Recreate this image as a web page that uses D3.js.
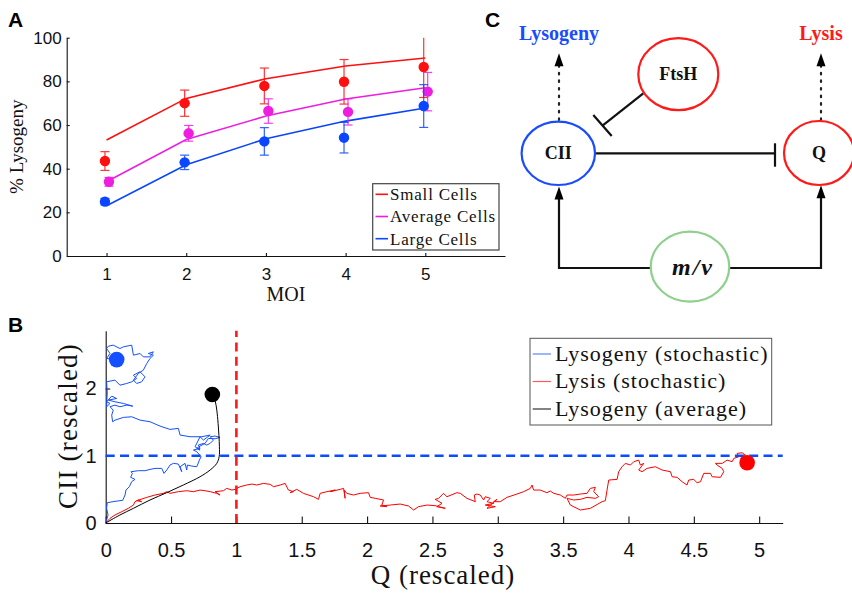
<!DOCTYPE html>
<html>
<head>
<meta charset="utf-8">
<script src="https://cdn.jsdelivr.net/npm/d3@7"></script>
<style>
  body { margin: 0; background: #fff; }
  svg { display: block; }
</style>
</head>
<body>
<div id="chart"></div>
<script>
// DATA

// panel A: % lysogeny vs MOI
const moi = [1, 2, 3, 4, 5];
const smallObs = [43.5, 70, 77.9, 79.8, 86.6];
const smallErr = [4.3, 6, 8.2, 10.2, 14];
const avgObs = [34, 56.2, 66.4, 66, 75.3];
const avgErr = [2, 3.6, 5.6, 6, 8.8];
const largeObs = [24.9, 42.9, 52.5, 54.2, 68.7];
const largeErr = [1.5, 3.3, 6.3, 7, 9.8];
const smallModel = [53.1, 72.2, 81.2, 87, 90.7];
const avgModel = [34, 53.4, 64.1, 71.9, 77.1];
const largeModel = [23, 41.8, 53.7, 61.8, 67.8];
const seriesNames = ['Small Cells', 'Average Cells', 'Large Cells'];
const moiJitter = [-0.02, 0.03, -0.02];
const yTicksA = [0, 20, 40, 60, 80, 100];

// panel B: trajectories in (Q, CII)
const lysogenyStochastic = [
  [0,0],[0.018,0.119],[0.007,0.218],[0.012,0.302],[0.071,0.322],[0.13,0.337],[0.148,0.416],[0.155,0.49],
  [0.181,0.54],[0.199,0.614],[0.224,0.649],[0.191,0.679],[0.204,0.738],[0.194,0.763],[0.25,0.778],[0.301,0.778],
  [0.339,0.797],[0.377,0.812],[0.429,0.812],[0.446,0.738],[0.467,0.788],[0.492,0.862],[0.518,0.887],[0.556,0.877],
  [0.582,0.763],[0.569,0.837],[0.607,0.887],[0.62,0.788],[0.625,0.862],[0.658,0.847],[0.697,0.837],[0.717,0.936],
  [0.73,0.986],[0.697,1.06],[0.671,1.085],[0.722,1.11],[0.709,1.159],[0.748,1.184],[0.773,1.159],[0.799,1.184],
  [0.824,1.233],[0.799,1.283],[0.837,1.293],[0.875,1.273],[0.837,1.253],[0.786,1.258],[0.76,1.184],[0.722,1.144],
  [0.697,1.11],[0.722,1.085],[0.684,1.134],[0.722,1.283],[0.748,1.233],[0.799,1.308],[0.735,1.283],[0.645,1.283],
  [0.569,1.308],[0.556,1.407],[0.492,1.392],[0.416,1.441],[0.339,1.506],[0.263,1.53],[0.199,1.58],[0.135,1.57],
  [0.071,1.53],[0.053,1.506],[0.046,1.605],[0.058,1.679],[0.033,1.729],[0.071,1.753],[0.109,1.729],[0.161,1.753],
  [0.207,1.738],[0.135,1.778],[0.071,1.803],[0.02,1.828],[0.084,1.852],[0.046,1.887],[0.007,1.803],[0.033,1.778],
  [0.007,1.729],[0.012,1.95],[0.007,2.1],[0.071,2.125],[0.109,2.05],[0.161,2.075],[0.199,2.1],[0.237,2.15],
  [0.212,2.199],[0.263,2.249],[0.301,2.174],[0.275,2.1],[0.237,2.075],[0.212,2.125],[0.25,2.224],[0.288,2.273],
  [0.314,2.372],[0.339,2.447],[0.365,2.496],[0.326,2.521],[0.365,2.546],[0.339,2.471],[0.288,2.471],[0.263,2.521],
  [0.212,2.496],[0.199,2.645],[0.135,2.62],[0.109,2.595],[0.058,2.645],[0.02,2.63],[0.007,2.595],[0.033,2.521],
  [0.007,2.447],[0.071,2.432],[0.084,2.43]
];
const lysisStochastic = [
  [0,0],[0.033,0.069],[0.071,0.119],[0.122,0.168],[0.173,0.218],[0.212,0.267],[0.224,0.317],[0.25,0.342],
  [0.275,0.317],[0.237,0.332],[0.314,0.381],[0.377,0.416],[0.441,0.441],[0.467,0.466],[0.492,0.441],[0.556,0.466],
  [0.62,0.48],[0.671,0.466],[0.722,0.49],[0.76,0.48],[0.799,0.466],[0.85,0.441],[0.875,0.416],[0.837,0.466],
  [0.901,0.48],[0.926,0.515],[0.965,0.49],[0.99,0.5],[1.028,0.54],[1.079,0.565],[1.118,0.579],[1.156,0.565],
  [1.207,0.589],[1.258,0.575],[1.284,0.54],[1.335,0.565],[1.373,0.589],[1.398,0.49],[1.437,0.466],[1.411,0.451],
  [1.462,0.5],[1.513,0.441],[1.59,0.391],[1.628,0.352],[1.641,0.441],[1.692,0.466],[1.756,0.49],[1.717,0.466],
  [1.794,0.5],[1.82,0.515],[1.832,0.367],[1.825,0.49],[1.845,0.441],[1.896,0.416],[1.947,0.441],[2.011,0.451],
  [2.024,0.381],[2.062,0.367],[2.126,0.342],[2.113,0.267],[2.151,0.243],[2.1,0.253],[2.177,0.267],[2.253,0.282],
  [2.317,0.253],[2.356,0.193],[2.394,0.243],[2.458,0.267],[2.521,0.258],[2.547,0.243],[2.598,0.218],[2.534,0.243],
  [2.573,0.292],[2.521,0.352],[2.547,0.367],[2.585,0.441],[2.611,0.391],[2.687,0.451],[2.713,0.441],[2.764,0.367],
  [2.828,0.317],[2.82,0.416],[2.84,0.431],[2.866,0.416],[2.892,0.342],[2.904,0.391],[2.943,0.367],[2.917,0.317],
  [2.968,0.292],[2.904,0.267],[2.981,0.243],[2.917,0.218],[2.994,0.352],[2.968,0.317],[3.019,0.317],[3.07,0.381],
  [3.147,0.431],[3.198,0.466],[3.249,0.515],[3.262,0.565],[3.274,0.49],[3.325,0.49],[3.376,0.451],[3.402,0.475],
  [3.428,0.441],[3.479,0.416],[3.517,0.367],[3.53,0.416],[3.581,0.416],[3.632,0.431],[3.683,0.441],[3.708,0.515],
  [3.747,0.53],[3.734,0.466],[3.772,0.391],[3.747,0.367],[3.683,0.381],[3.632,0.352],[3.581,0.342],[3.53,0.367],
  [3.555,0.267],[3.632,0.193],[3.708,0.218],[3.798,0.317],[3.823,0.332],[3.836,0.49],[3.849,0.639],[3.913,0.649],
  [3.925,0.763],[3.951,0.837],[3.976,0.887],[4.015,0.862],[4.04,0.911],[4.078,0.936],[4.091,0.862],[4.117,0.887],
  [4.078,0.788],[4.104,0.763],[4.142,0.812],[4.206,0.837],[4.257,0.788],[4.321,0.763],[4.334,0.688],[4.372,0.679],
  [4.41,0.614],[4.448,0.565],[4.461,0.639],[4.499,0.649],[4.525,0.599],[4.551,0.614],[4.576,0.738],[4.627,0.738],
  [4.64,0.688],[4.704,0.679],[4.729,0.763],[4.717,0.812],[4.678,0.862],[4.665,0.887],[4.717,0.887],[4.755,0.936],
  [4.793,0.911],[4.806,0.961],[4.844,0.986],[4.831,1.035],[4.87,1.045],[4.895,1.01],[4.857,0.961],[4.908,0.897]
];
const lysogenyAverage = [
  [0,0],[0.109,0.119],[0.212,0.218],[0.339,0.342],[0.467,0.451],[0.594,0.565],[0.722,0.688],[0.799,0.788],
  [0.85,0.887],[0.868,0.986],[0.87,1.134],[0.86,1.481],[0.85,1.679],[0.839,1.803],[0.816,1.912]
];
const thresholdQ = 1;
const thresholdCII = 1;
const xTicksB = [0, 0.5, 1, 1.5, 2, 2.5, 3, 3.5, 4, 4.5, 5];
const yTicksB = [0, 1, 2];
const legendB = ['Lysogeny (stochastic)', 'Lysis (stochastic)', 'Lysogeny (average)'];

// COLOURS AND FONTS
const colA = ['#ff1010', '#ee1ee0', '#0a46ff'];
const colB = { lysog: '#1450ff', lysis: '#ff0000', avg: '#000000' };
const sans = 'Liberation Sans, Arial, sans-serif';
const serif = 'Liberation Serif, Times New Roman, serif';
const plain = d => String(d);

const svg = d3.select('#chart').append('svg')
  .attr('width', 852)
  .attr('height', 595)
  .style('background', '#fff');

// PANEL A
const xA = d3.scaleLinear().domain([0.5, 6]).range([66.7, 505]);
const yA = d3.scaleLinear().domain([0, 100]).range([256, 37.7]);

svg.append('clipPath').attr('id', 'clipA')
  .append('rect').attr('x', 66.7).attr('y', 37.7).attr('width', 440).attr('height', 218.3);

const gA = svg.append('g');

const axA1 = gA.append('g')
  .attr('transform', 'translate(0,256)')
  .call(d3.axisBottom(xA).tickValues(moi).tickFormat(plain).tickSize(-3).tickSizeOuter(0).tickPadding(12));
const axA2 = gA.append('g')
  .attr('transform', 'translate(66.7,0)')
  .call(d3.axisLeft(yA).tickValues(yTicksA).tickFormat(plain).tickSize(-3).tickSizeOuter(0).tickPadding(5));
[axA1, axA2].forEach(ax => {
  ax.selectAll('text').attr('font-size', 17).attr('font-family', sans).attr('fill', '#111');
  ax.selectAll('line, path').attr('stroke', '#111').attr('stroke-width', 1.1);
});

const obsA = [smallObs, avgObs, largeObs];
const errA = [smallErr, avgErr, largeErr];
const modA = [smallModel, avgModel, largeModel];
const plotA = gA.append('g').attr('clip-path', 'url(#clipA)');

modA.forEach((m, i) => {
  plotA.append('path')
    .datum(m)
    .attr('fill', 'none')
    .attr('stroke', colA[i])
    .attr('stroke-width', 1.6)
    .attr('d', d3.line().x((d, j) => xA(moi[j])).y(d => yA(d)));
});

obsA.forEach((vals, i) => {
  const g = plotA.append('g').attr('stroke', colA[i]).attr('stroke-width', 1.2).attr('opacity', 0.85);
  vals.forEach((v, j) => {
    const x = xA(moi[j] + moiJitter[i]);
    const top = yA(v + errA[i][j]);
    const bot = yA(v - errA[i][j]);
    g.append('line').attr('x1', x).attr('x2', x).attr('y1', top).attr('y2', bot);
    g.append('line').attr('x1', x - 4.5).attr('x2', x + 4.5).attr('y1', top).attr('y2', top);
    g.append('line').attr('x1', x - 4.5).attr('x2', x + 4.5).attr('y1', bot).attr('y2', bot);
  });
  plotA.selectAll(null)
    .data(vals)
    .join('circle')
    .attr('cx', (d, j) => xA(moi[j] + moiJitter[i]))
    .attr('cy', d => yA(d))
    .attr('r', 5.2)
    .attr('fill', colA[i]);
});

// legend A
const lgA = gA.append('g');
lgA.append('rect')
  .attr('x', 372.7).attr('y', 183.7).attr('width', 126.3).attr('height', 66.3)
  .attr('fill', '#fff').attr('stroke', '#444').attr('stroke-width', 1.2);
seriesNames.forEach((name, i) => {
  const yy = 194.3 + i * 22.2;
  lgA.append('line').attr('x1', 375.5).attr('x2', 388).attr('y1', yy).attr('y2', yy)
    .attr('stroke', colA[i]).attr('stroke-width', 1.6);
  lgA.append('text').attr('x', 390).attr('y', yy + 5.8)
    .attr('font-family', serif).attr('font-size', 17).attr('letter-spacing', 0.8)
    .attr('fill', '#111').text(name);
});

gA.append('text')
  .attr('transform', 'translate(23,146.7) rotate(-90)')
  .attr('text-anchor', 'middle')
  .attr('font-family', serif).attr('font-size', 19)
  .attr('fill', '#111').text('% Lysogeny');
gA.append('text')
  .attr('x', 286).attr('y', 301)
  .attr('text-anchor', 'middle')
  .attr('font-family', serif).attr('font-size', 20)
  .attr('fill', '#111').text('MOI');

// PANEL B
const xB = d3.scaleLinear().domain([0, 5.18]).range([105.7, 782.7]);
const yB = d3.scaleLinear().domain([0, 2.86]).range([523, 330.7]);
const gB = svg.append('g');

const axB1 = gB.append('g')
  .attr('transform', 'translate(0,523)')
  .call(d3.axisBottom(xB).tickValues(xTicksB).tickFormat(plain).tickSize(-6.5).tickSizeOuter(0).tickPadding(20));
const axB2 = gB.append('g')
  .attr('transform', 'translate(105.7,0)')
  .call(d3.axisLeft(yB).tickValues(yTicksB).tickFormat(plain).tickSize(-4.5).tickSizeOuter(0).tickPadding(9));
[axB1, axB2].forEach(ax => {
  ax.selectAll('text').attr('font-size', 20).attr('font-family', sans).attr('fill', '#111');
  ax.selectAll('line, path').attr('stroke', '#111').attr('stroke-width', 1.1);
});

const lineB = d3.line().x(d => xB(d[0])).y(d => yB(d[1]));

gB.append('path').datum(lysogenyStochastic)
  .attr('fill', 'none').attr('stroke', colB.lysog).attr('stroke-width', 1).attr('d', lineB);
gB.append('path').datum(lysisStochastic)
  .attr('fill', 'none').attr('stroke', colB.lysis).attr('stroke-width', 1).attr('d', lineB);
gB.append('path').datum(lysogenyAverage)
  .attr('fill', 'none').attr('stroke', colB.avg).attr('stroke-width', 1)
  .attr('d', lineB.curve(d3.curveCatmullRom));

// thresholds
gB.append('line')
  .attr('x1', xB(0)).attr('x2', xB(5.18)).attr('y1', yB(thresholdCII)).attr('y2', yB(thresholdCII))
  .attr('stroke', '#0a4cff').attr('stroke-width', 2.6).attr('stroke-dasharray', '9,5.3');
gB.append('line')
  .attr('x1', xB(thresholdQ)).attr('x2', xB(thresholdQ)).attr('y1', yB(0)).attr('y2', yB(2.86))
  .attr('stroke', '#ff1a1a').attr('stroke-width', 2.6).attr('stroke-dasharray', '9,5.3');

// end points
const endB = [
  [lysogenyStochastic[lysogenyStochastic.length - 1], colB.lysog],
  [lysogenyAverage[lysogenyAverage.length - 1], colB.avg],
  [lysisStochastic[lysisStochastic.length - 1], colB.lysis]
];
gB.selectAll('circle.end')
  .data(endB)
  .join('circle')
  .attr('class', 'end')
  .attr('cx', d => xB(d[0][0]))
  .attr('cy', d => yB(d[0][1]))
  .attr('r', 7.8)
  .attr('fill', d => d[1]);

// legend B
const lgB = gB.append('g');
lgB.append('rect')
  .attr('x', 530).attr('y', 338.3).attr('width', 241.7).attr('height', 86.7)
  .attr('fill', '#fff').attr('stroke', '#555').attr('stroke-width', 1);
const legColB = ['#5a84ff', '#ff5a5a', '#333'];
legendB.forEach((name, i) => {
  const yy = 354 + i * 27.5;
  lgB.append('line').attr('x1', 532.7).attr('x2', 551).attr('y1', yy).attr('y2', yy)
    .attr('stroke', legColB[i]).attr('stroke-width', 1.2);
  lgB.append('text').attr('x', 555).attr('y', yy + 6.5)
    .attr('font-family', serif).attr('font-size', 22).attr('letter-spacing', 1)
    .attr('fill', '#111').text(name);
});

gB.append('text')
  .attr('x', 443).attr('y', 584)
  .attr('text-anchor', 'middle')
  .attr('font-family', serif).attr('font-size', 27).attr('letter-spacing', 1)
  .attr('fill', '#111').text('Q (rescaled)');
gB.append('text')
  .attr('transform', 'translate(77,426) rotate(-90)')
  .attr('text-anchor', 'middle')
  .attr('font-family', serif).attr('font-size', 27).attr('letter-spacing', 1.2)
  .attr('fill', '#111').text('CII (rescaled)');

// PANEL LETTERS
[['A', 8, 26.7], ['B', 8, 331.7], ['C', 485, 26.7]].forEach(([t, x, y]) => {
  svg.append('text').attr('x', x).attr('y', y)
    .attr('font-family', sans).attr('font-weight', 'bold').attr('font-size', 21)
    .attr('fill', '#000').text(t);
});

// PANEL C: network diagram
const gC = svg.append('g');
const nodes = [
  { id: 'CII', cx: 558.3, cy: 153.3, rx: 36.7, ry: 31.7, stroke: '#1a4cff', italic: false },
  { id: 'Q', cx: 819, cy: 153, rx: 35, ry: 32, stroke: '#ff1a1a', italic: false },
  { id: 'FtsH', cx: 678.3, cy: 74.2, rx: 40, ry: 36, stroke: '#ff1a1a', italic: false },
  { id: 'm/v', cx: 690, cy: 266.7, rx: 39.3, ry: 35, stroke: '#8fd08c', italic: true }
];
const outcomes = [
  { id: 'Lysogeny', x: 559, color: '#1a4cff' },
  { id: 'Lysis', x: 821, color: '#ff1a1a' }
];

const arrowHead = (x, tipY) => `M${x},${tipY} L${x - 4.5},${tipY + 13} L${x + 4.5},${tipY + 13} Z`;

// dotted arrows to outcomes
outcomes.forEach(o => {
  gC.append('line').attr('x1', o.x).attr('x2', o.x).attr('y1', 120).attr('y2', 66)
    .attr('stroke', '#222').attr('stroke-width', 2.2).attr('stroke-dasharray', '1.6,6')
    .attr('stroke-linecap', 'round');
  gC.append('path').attr('d', arrowHead(o.x, 53.3)).attr('fill', '#000');
  gC.append('text').attr('x', o.x).attr('y', 40)
    .attr('text-anchor', 'middle')
    .attr('font-family', serif).attr('font-weight', 'bold').attr('font-size', 20)
    .attr('fill', o.color).text(o.id);
});

// FtsH -| CII
gC.append('line').attr('x1', 643.3).attr('y1', 93.3).attr('x2', 602.5).attr('y2', 125.6)
  .attr('stroke', '#111').attr('stroke-width', 2.2);
gC.append('line').attr('x1', 593.3).attr('y1', 115).attr('x2', 611.7).attr('y2', 136)
  .attr('stroke', '#111').attr('stroke-width', 2.2);

// CII -| Q
gC.append('line').attr('x1', 595).attr('y1', 153.3).attr('x2', 775).attr('y2', 153.3)
  .attr('stroke', '#111').attr('stroke-width', 2.2);
gC.append('line').attr('x1', 775).attr('y1', 143.3).attr('x2', 775).attr('y2', 166.7)
  .attr('stroke', '#111').attr('stroke-width', 2.2);

// m/v -> CII and Q
gC.append('path').attr('d', 'M650.7,268 H559 V198')
  .attr('fill', 'none').attr('stroke', '#111').attr('stroke-width', 2.2);
gC.append('path').attr('d', arrowHead(559, 186.5)).attr('fill', '#000');
gC.append('path').attr('d', 'M729.3,268 H821 V197')
  .attr('fill', 'none').attr('stroke', '#111').attr('stroke-width', 2.2);
gC.append('path').attr('d', arrowHead(821, 185.3)).attr('fill', '#000');

nodes.forEach(n => {
  gC.append('ellipse')
    .attr('cx', n.cx).attr('cy', n.cy).attr('rx', n.rx).attr('ry', n.ry)
    .attr('fill', '#fff').attr('stroke', n.stroke).attr('stroke-width', 2.2);
  gC.append('text')
    .attr('x', n.cx + (n.italic ? 3 : 0)).attr('y', n.cy + (n.italic ? 8 : 6))
    .attr('text-anchor', 'middle')
    .attr('font-family', serif).attr('font-weight', 'bold')
    .attr('font-style', n.italic ? 'italic' : 'normal')
    .attr('font-size', n.italic ? 24 : 18)
    .attr('letter-spacing', n.italic ? 2 : 0)
    .attr('fill', '#111').text(n.id);
});
</script>
</body>
</html>
